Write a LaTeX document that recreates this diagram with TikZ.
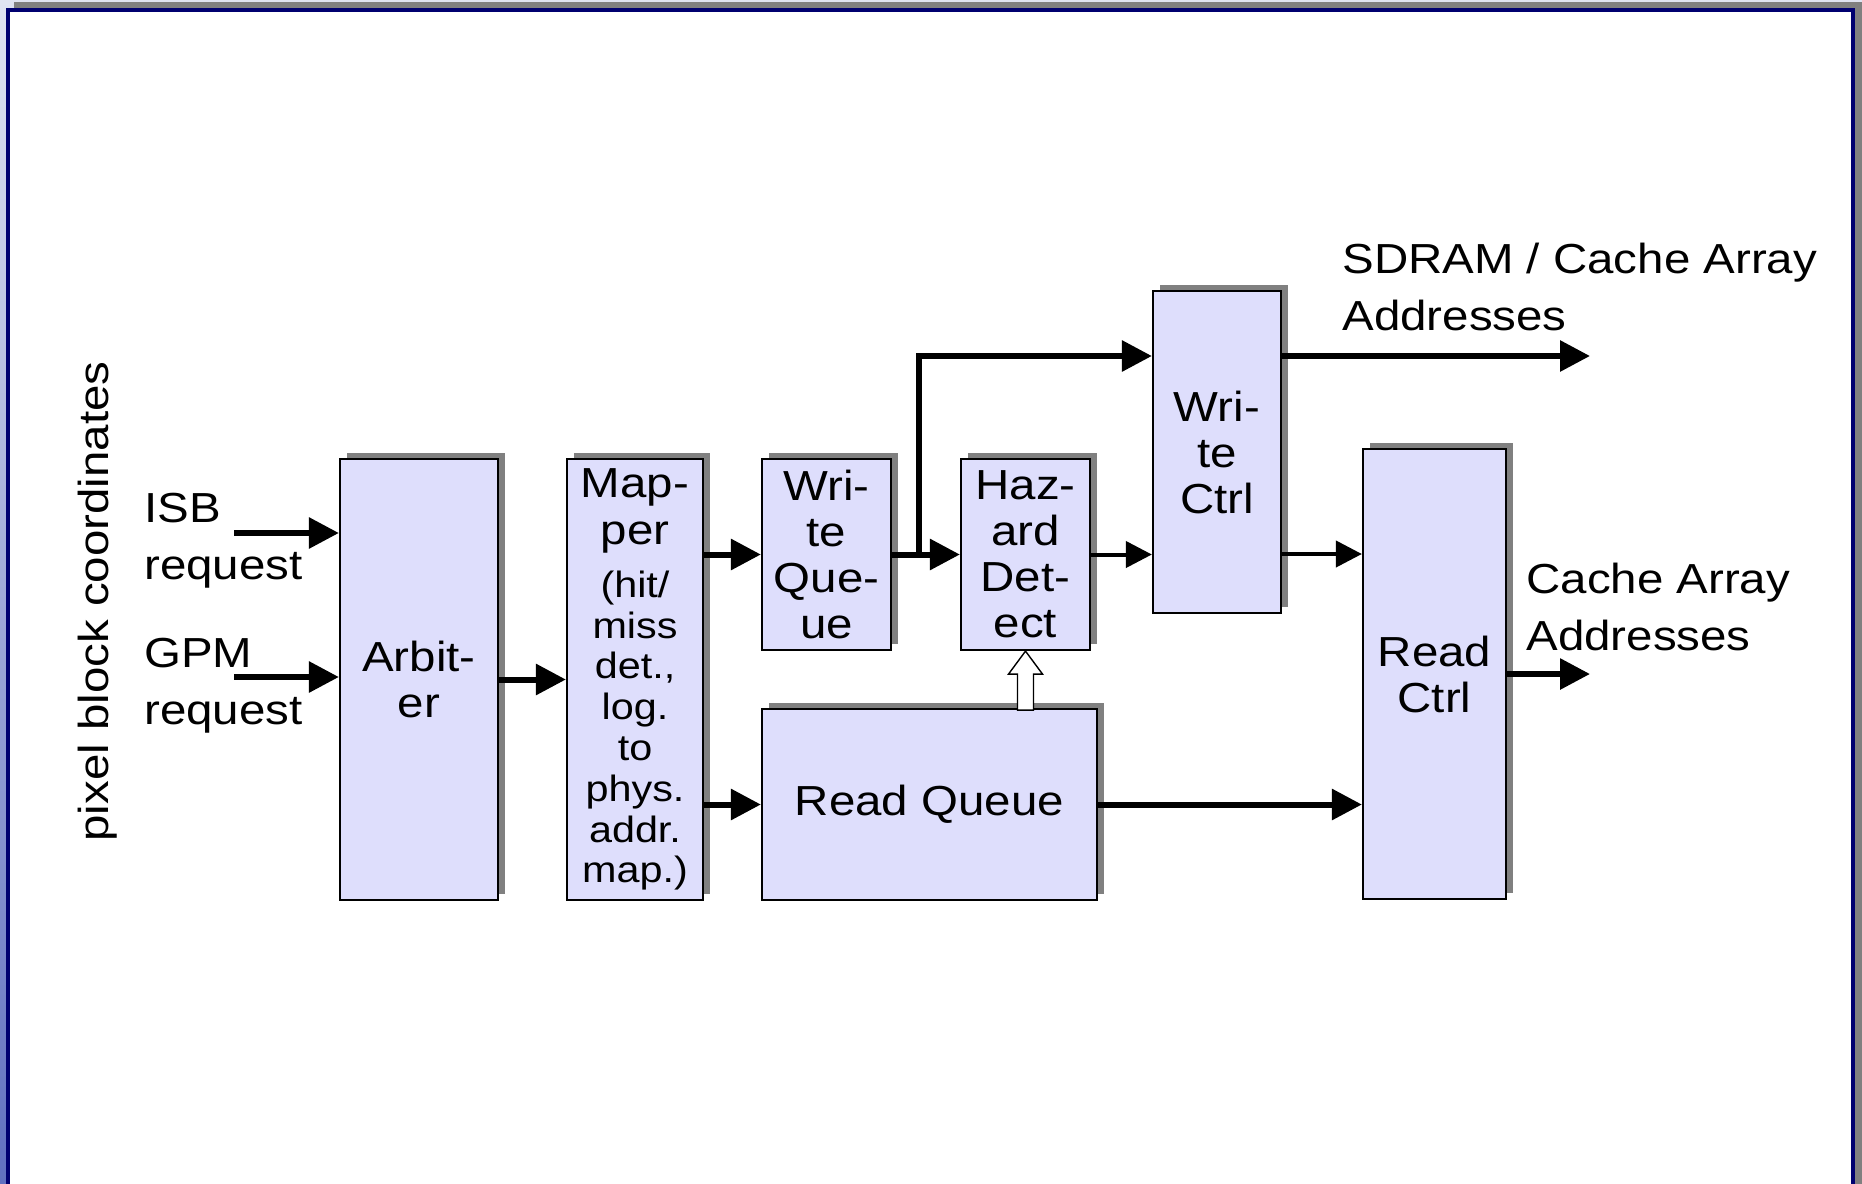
\documentclass[tikz,border=0pt]{standalone}
\usepackage{fontspec}
\setmainfont{Liberation Sans}[FakeStretch=1.13]
\usetikzlibrary{arrows.meta,shadows}

\definecolor{boxfill}{RGB}{222,222,252}
\definecolor{shadowgray}{RGB}{128,128,128}
\definecolor{framenavy}{RGB}{0,0,112}
\definecolor{bgtop}{RGB}{224,228,242}
\definecolor{bgbottom}{RGB}{96,112,192}

% smaller type for the mapper's description
\newcommand{\mapsm}{\fontsize{18.3pt}{20.4pt}\selectfont}

\begin{document}
\begin{tikzpicture}[x=0.5pt,y=-0.5pt,
  block/.style={draw=black, fill=boxfill, line width=1.1pt, inner sep=0pt, align=center,
    font=\fontsize{21pt}{23pt}\selectfont,
    drop shadow={shadow xshift=3.5pt, shadow yshift=3pt, fill=shadowgray, opacity=1}},
  busarrow/.style={line width=3pt, line join=miter, -{Triangle[length=15pt,width=15pt]}},
  thinarrow/.style={line width=2pt, -{Triangle[length=13pt,width=13pt]}},
  sidetext/.style={inner sep=0pt, align=left, font=\fontsize{21pt}{28.5pt}\selectfont},
]
\useasboundingbox (0,0) rectangle (1862,1183);

% slide frame (runs past the lower edge of the page)
\shade[top color=bgtop, bottom color=bgbottom] (0,0) rectangle (1862,1183);
\fill[shadowgray] (14,2) rectangle (1862,1210);
\fill[framenavy] (6,8) rectangle (1855,1210);
\fill[white] (10,12) rectangle (1851,1210);

% side annotations
\node[rotate=90, anchor=base, inner sep=0pt, font=\fontsize{21pt}{23pt}\selectfont]
  (coords) at (108,601.5) {pixel block coordinates};
\node[sidetext, anchor=north west] (isb) at (144,493) {ISB\\request};
\node[sidetext, anchor=north west] (gpm) at (144,638) {GPM\\request};
\node[sidetext, anchor=north west] (sdram) at (1342,243) {SDRAM / Cache Array\\Addresses};
\node[sidetext, anchor=north west] (cache) at (1526,563) {Cache Array\\Addresses};

% pipeline blocks
\node[block, minimum width=79pt, minimum height=220.5pt] (arb) at (419,679.5) {Arbit-\\er};
\node[block, minimum width=68pt, minimum height=220.5pt,
      font=\fontsize{21pt}{20.4pt}\selectfont] (map) at (635,679.5)
  {Map-\\[3.1pt]per\\[6.1pt]\mapsm (hit/\\\mapsm miss\\\mapsm det.,\\\mapsm log.\\\mapsm to\\\mapsm phys.\\\mapsm addr.\\\mapsm map.)};
\node[block, minimum width=64.5pt, minimum height=95.5pt] (wq) at (826.5,554.5) {Wri-\\te\\Que-\\ue};
\node[block, minimum width=64.5pt, minimum height=95.5pt] (hd) at (1025.5,554.5) {Haz-\\ard\\Det-\\ect};
\node[block, minimum width=167.5pt, minimum height=95.5pt] (rq) at (929.5,804.5) {Read Queue};
\node[block, minimum width=64pt, minimum height=161pt] (wc) at (1217,452) {Wri-\\te\\Ctrl};
\node[block, minimum width=71.5pt, minimum height=225pt] (rc) at (1434.5,674) {Read\\Ctrl};

% request inputs
\coordinate (isbin) at (234,533);
\coordinate (gpmin) at (234,677);
\draw[busarrow] (isbin) -- (isbin -| arb.west);
\draw[busarrow] (gpmin) -- (gpmin -| arb.west);

% data path
\draw[busarrow] (arb.east) -- (map.west |- arb.east);
\draw[busarrow] (map.east |- wq.west) -- (wq.west);
\draw[busarrow] (map.east |- rq.west) -- (rq.west);
\draw[busarrow] (wq.east) -- (hd.west);
\coordinate (split) at (919,554.5);
\draw[busarrow] (split) |- (wc.west |- 0,356);
\draw[thinarrow] (hd.east) -- (hd.east -| wc.west);
\draw[thinarrow] (wc.east |- 0,554) -- (rc.west |- 0,554);
\draw[busarrow] (rq.east) -- (rq.east -| rc.west);

% outputs
\coordinate (sdramout) at (1590,356);
\coordinate (cacheout) at (1590,674);
\draw[busarrow] (sdramout -| wc.east) -- (sdramout);
\draw[busarrow] (rc.east) -- (cacheout);

% hazard check from the read queue
\draw[fill=white, line width=0.7pt, line join=miter]
  (hd.south) -- ++(17,23) -- ++(-9,0) -- ++(0,36) -- ++(-16,0) -- ++(0,-36) -- ++(-9,0) -- cycle;
\end{tikzpicture}
\end{document}
